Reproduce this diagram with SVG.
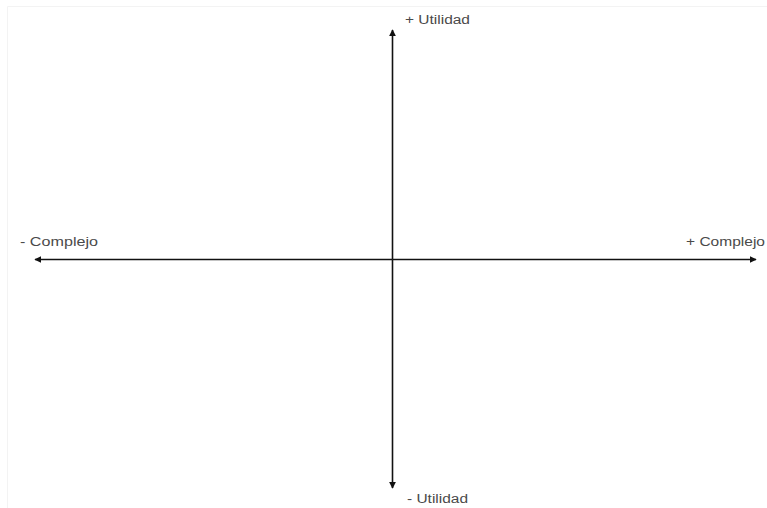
<svg xmlns="http://www.w3.org/2000/svg" width="767" height="508" viewBox="0 0 767 508">
<style>
.axis{stroke:#111;stroke-width:1.6;fill:none}
.lbl{font-family:"Liberation Sans",Arial,sans-serif;font-size:12px;fill:#4a4a4a}
</style>
<defs>
<marker id="ah" viewBox="0 0 10 10" refX="9" refY="5" markerWidth="7" markerHeight="7" markerUnits="userSpaceOnUse" orient="auto">
<path d="M0,0 L10,5 L0,10 Z" fill="#111"/>
</marker>
</defs>
<rect width="767" height="508" fill="#fff"/>
<path d="M7.5,508 V6.5 H767" stroke="#f3f3f3" fill="none"/>
<g id="connectors">
<line class="axis" x1="392.5" y1="259.5" x2="392.5" y2="30" marker-end="url(#ah)"/>
<line class="axis" x1="392.5" y1="259.5" x2="392.5" y2="488" marker-end="url(#ah)"/>
<line class="axis" x1="392.5" y1="259.5" x2="756" y2="259.5" marker-end="url(#ah)"/>
<line class="axis" x1="392.5" y1="259.5" x2="35" y2="259.5" marker-end="url(#ah)"/>
</g>
<g id="top"><text class="lbl" x="405" y="24" textLength="65" lengthAdjust="spacingAndGlyphs">+ Utilidad</text></g>
<g id="bottom"><text class="lbl" x="407" y="503" textLength="61" lengthAdjust="spacingAndGlyphs">- Utilidad</text></g>
<g id="left"><text class="lbl" x="20" y="246" textLength="78" lengthAdjust="spacingAndGlyphs">- Complejo</text></g>
<g id="right"><text class="lbl" x="686" y="246" textLength="79" lengthAdjust="spacingAndGlyphs">+ Complejo</text></g>
</svg>
